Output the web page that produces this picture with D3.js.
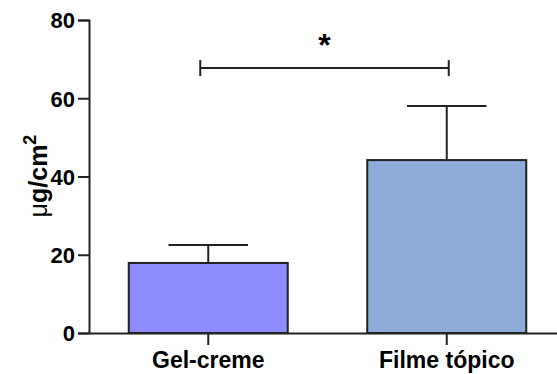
<!DOCTYPE html>
<html>
<head>
<meta charset="utf-8">
<script src="https://cdn.jsdelivr.net/npm/d3@7"></script>
<style>
  body { margin: 0; background: #fff; }
  svg { display: block; }
  text { font-family: "Liberation Sans", Arial, sans-serif; }
</style>
</head>
<body>
<svg width="557" height="374"></svg>
<script>
// data
var categories = ["Gel-creme", "Filme tópico"];
var means = [17.9, 44.2];
var errors = [4.6, 13.8];
var barColors = ["#8c8cff", "#8eacd8"];
var yTicks = [0, 20, 40, 60, 80];
var sigLevel = 67.7;
var sigLabel = "*";

var svg = d3.select("svg");
var ink = "#222";

var y = d3.scaleLinear().domain([0, 80]).range([333, 20]);
var x = d3.scaleBand().domain(categories).range([89, 566])
        .paddingInner(1/3).paddingOuter(1/6);

// y axis
var yAxis = svg.append("g").attr("transform", "translate(89,0)")
        .call(d3.axisLeft(y).tickValues(yTicks).tickSize(11).tickPadding(3));
yAxis.select(".domain").attr("stroke", ink).attr("stroke-width", 2);
yAxis.selectAll(".tick line").attr("stroke", ink).attr("stroke-width", 2);
yAxis.selectAll(".tick text")
        .style("font-size", "22px").style("font-weight", "bold")
        .attr("fill", "#000").attr("dy", "0.36em");

// bars
svg.selectAll("rect.bar")
        .data(categories)
        .enter()
        .append("rect")
        .attr("class", "bar")
        .attr("x", function(d){return x(d);})
        .attr("width", x.bandwidth())
        .attr("y", function(d, i){return y(means[i]);})
        .attr("height", function(d, i){return y(0) - y(means[i]);})
        .style("fill", function(d, i){return barColors[i];})
        .style("stroke", ink)
        .style("stroke-width", "2px");

// error bars (upper only)
var eb = svg.selectAll("g.err").data(categories).enter().append("g").attr("class", "err");
eb.append("line")
        .attr("x1", function(d){return x(d) + x.bandwidth()/2;})
        .attr("x2", function(d){return x(d) + x.bandwidth()/2;})
        .attr("y1", function(d, i){return y(means[i]);})
        .attr("y2", function(d, i){return y(means[i] + errors[i]);})
        .attr("stroke", ink).attr("stroke-width", 2);
eb.append("line")
        .attr("x1", function(d){return x(d) + x.bandwidth()/4;})
        .attr("x2", function(d){return x(d) + x.bandwidth()*3/4;})
        .attr("y1", function(d, i){return y(means[i] + errors[i]);})
        .attr("y2", function(d, i){return y(means[i] + errors[i]);})
        .attr("stroke", ink).attr("stroke-width", 2);

// x axis
var xAxis = svg.append("g").attr("transform", "translate(0,333)")
        .call(d3.axisBottom(x).tickSize(12).tickSizeOuter(0).tickPadding(7));
xAxis.select(".domain").attr("stroke", ink).attr("stroke-width", 2);
xAxis.selectAll(".tick line").attr("stroke", ink).attr("stroke-width", 2);
xAxis.selectAll(".tick text")
        .style("font-size", "23px").style("font-weight", "bold")
        .attr("fill", "#000");

// y label
svg.append("text")
        .attr("transform", "translate(47,176) rotate(-90)")
        .attr("text-anchor", "middle")
        .style("font-size", "25px")
        .html('<tspan>μ</tspan><tspan font-weight="bold">g/cm</tspan><tspan font-weight="bold" dy="-11" font-size="18px">2</tspan>');

// significance bracket
var c1 = x(categories[0]) + x.bandwidth()/2 - 8;
var c2 = x(categories[1]) + x.bandwidth()/2 + 2;
var sy = y(sigLevel);
svg.append("line").attr("x1", c1).attr("x2", c2).attr("y1", sy).attr("y2", sy)
        .attr("stroke", ink).attr("stroke-width", 2);
[c1, c2].forEach(function(cx) {
    svg.append("line").attr("x1", cx).attr("x2", cx).attr("y1", sy - 8).attr("y2", sy + 8)
            .attr("stroke", ink).attr("stroke-width", 2);
});
svg.append("text")
        .attr("x", (c1 + c2)/2)
        .attr("y", 56)
        .attr("text-anchor", "middle")
        .style("font-size", "32px").style("font-weight", "bold")
        .text(sigLabel);
</script>
</body>
</html>
